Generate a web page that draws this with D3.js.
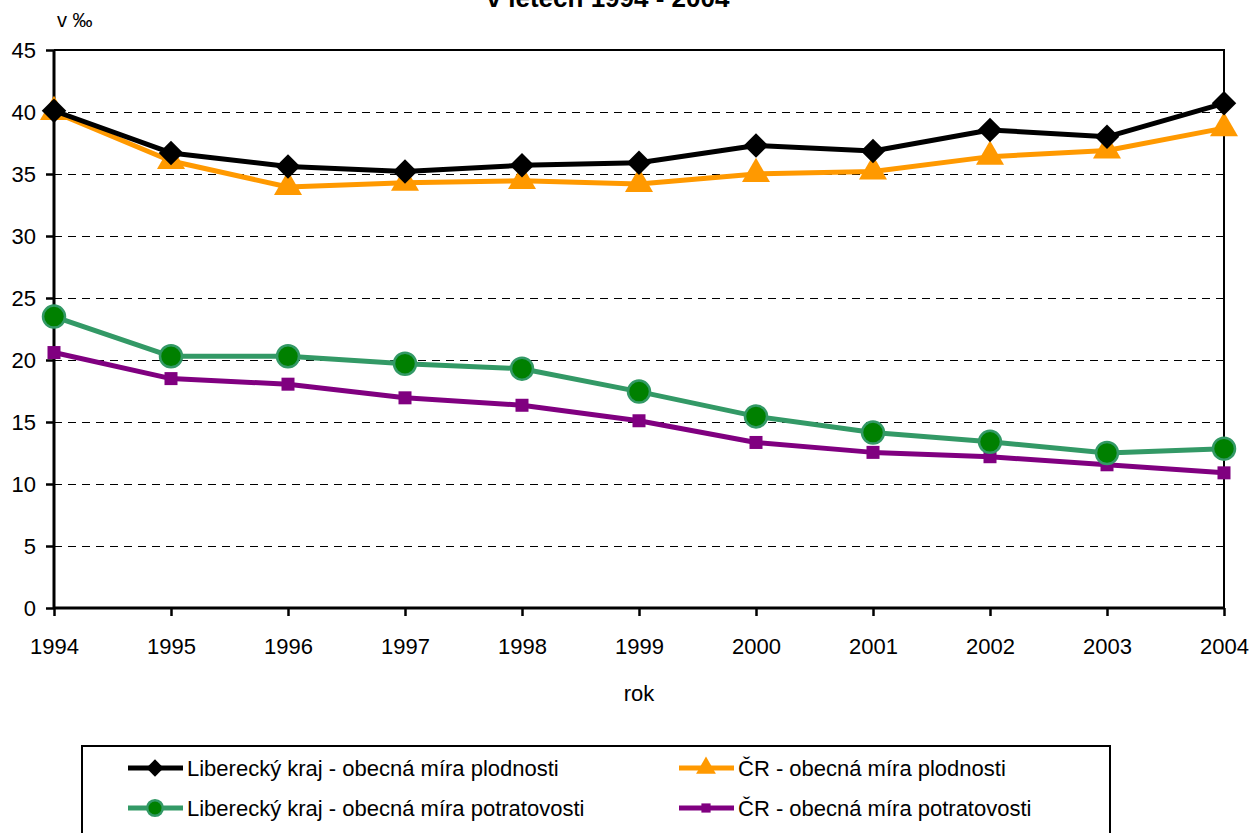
<!DOCTYPE html>
<html lang="cs">
<head>
<meta charset="UTF-8">
<title>Obecná míra plodnosti a potratovosti</title>
<script src="https://d3js.org/d3.v7.min.js"></script>
<style>
  body { margin: 0; background: #fff; }
  svg { display: block; font-family: "Liberation Sans Narrow", "Arial Narrow", "Liberation Sans", Arial, sans-serif; }
</style>
</head>
<body>
<div id="chart"></div>
<script>
const years = [1994, 1995, 1996, 1997, 1998, 1999, 2000, 2001, 2002, 2003, 2004];
const lkPlodnost = [40.1, 36.7, 35.6, 35.2, 35.7, 35.9, 37.3, 36.85, 38.55, 38.0, 40.7];
const crPlodnost = [40.0, 36.05, 33.95, 34.3, 34.45, 34.2, 35.0, 35.2, 36.4, 36.9, 38.7];
const lkPotrat = [23.5, 20.3, 20.3, 19.7, 19.3, 17.45, 15.45, 14.15, 13.4, 12.5, 12.85];
const crPotrat = [20.6, 18.5, 18.05, 16.95, 16.35, 15.1, 13.35, 12.55, 12.2, 11.55, 10.9];
const yTicks = [0, 5, 10, 15, 20, 25, 30, 35, 40, 45];

const series = [
  { name: "Liberecký kraj - obecná míra plodnosti", values: lkPlodnost, color: "#000000", marker: "diamond" },
  { name: "ČR - obecná míra plodnosti", values: crPlodnost, color: "#FF9900", marker: "triangle" },
  { name: "Liberecký kraj - obecná míra potratovosti", values: lkPotrat, color: "#339966", marker: "circle" },
  { name: "ČR - obecná míra potratovosti", values: crPotrat, color: "#800080", marker: "square" }
];

const W = 1253, H = 833;
const plot = { left: 54, right: 1224, top: 50, bottom: 608 };

const svg = d3.select("#chart").append("svg")
  .attr("width", W).attr("height", H);

const x = d3.scaleLinear().domain([1994, 2004]).range([plot.left, plot.right]);
const y = d3.scaleLinear().domain([0, 45]).range([plot.bottom, plot.top]);

// title (cut off at the top like the original)
svg.append("text")
  .attr("x", 608).attr("y", 7)
  .attr("text-anchor", "middle")
  .style("font-family", "Liberation Sans, Arial, sans-serif")
  .style("font-weight", "bold")
  .style("font-size", "26px")
  .text("v letech 1994 - 2004");

// grid
svg.append("g").selectAll("line")
  .data(yTicks.filter(d => d > 0 && d < 45))
  .join("line")
  .attr("x1", plot.left).attr("x2", plot.right)
  .attr("y1", d => Math.round(y(d)) + 0.5).attr("y2", d => Math.round(y(d)) + 0.5)
  .attr("stroke", "#000").attr("stroke-width", 1)
  .attr("stroke-dasharray", "8,6");

// frame top and right
svg.append("path")
  .attr("d", `M${plot.left},${y(45)}H${plot.right}V${plot.bottom}`)
  .attr("fill", "none").attr("stroke", "#000").attr("stroke-width", 2);

// axes
const yAxis = svg.append("g")
  .attr("transform", `translate(${plot.left},0)`)
  .call(d3.axisLeft(y).tickValues(yTicks).tickSize(8).tickPadding(10));
const xAxis = svg.append("g")
  .attr("transform", `translate(0,${plot.bottom})`)
  .call(d3.axisBottom(x).tickValues(years).tickFormat(d3.format("d")).tickSize(8).tickPadding(22));

[yAxis, xAxis].forEach(g => {
  g.select(".domain").attr("stroke", "#000").attr("stroke-width", 3);
  g.selectAll(".tick line").attr("stroke", "#000").attr("stroke-width", 2.5);
  g.selectAll(".tick text").attr("fill", "#000").style("font-size", "22px");
});
xAxis.select(".domain").attr("d", `M${plot.left},0H${plot.right}`);
yAxis.select(".domain").attr("d", `M0,${plot.bottom}V${plot.top}`);

// axis titles
svg.append("text").attr("x", 57).attr("y", 27)
  .style("font-size", "20px").text("v ‰");
svg.append("text").attr("x", 639).attr("y", 701)
  .attr("text-anchor", "middle").style("font-size", "22px").text("rok");

function drawMarker(g, type, color, scale) {
  const s = scale || 1;
  if (type === "diamond") {
    g.append("path").attr("d", d3.symbol().type(d3.symbolSquare).size(300 * s)())
      .attr("transform", "rotate(45)").attr("fill", color);
  } else if (type === "triangle") {
    g.append("path").attr("d", d3.symbol().type(d3.symbolTriangle).size(340 * s)())
      .attr("fill", color);
  } else if (type === "circle") {
    g.append("circle").attr("r", 11 * Math.sqrt(s))
      .attr("fill", "#008000").attr("stroke", color).attr("stroke-width", 2.5);
  } else {
    const h = 6.5 * Math.sqrt(s);
    g.append("rect").attr("x", -h).attr("y", -h)
      .attr("width", 2 * h).attr("height", 2 * h)
      .attr("fill", color);
  }
}

const line = d3.line().x((d, i) => x(years[i])).y(d => y(d));

// draw in reverse order so the first series is on top
series.slice().reverse().forEach(s => {
  const g = svg.append("g");
  g.append("path").datum(s.values)
    .attr("d", line)
    .attr("fill", "none").attr("stroke", s.color).attr("stroke-width", 5)
    .attr("stroke-linejoin", "round");
  s.values.forEach((v, i) => {
    const m = g.append("g").attr("transform", `translate(${x(years[i])},${y(v)})`);
    drawMarker(m, s.marker, s.color);
  });
});

// legend
svg.append("rect")
  .attr("x", 82).attr("y", 746).attr("width", 1028).attr("height", 120)
  .attr("fill", "none").attr("stroke", "#000").attr("stroke-width", 2);

const legendPos = [
  { x: 128, y: 768 }, { x: 679, y: 768 },
  { x: 128, y: 808 }, { x: 679, y: 808 }
];
series.forEach((s, i) => {
  const p = legendPos[i];
  const g = svg.append("g");
  g.append("line").attr("x1", p.x).attr("x2", p.x + 55)
    .attr("y1", p.y).attr("y2", p.y)
    .attr("stroke", s.color).attr("stroke-width", 5);
  const m = g.append("g").attr("transform", `translate(${p.x + 27},${p.y})`);
  drawMarker(m, s.marker, s.color, 0.5);
  g.append("text").attr("x", p.x + 59).attr("y", p.y + 8)
    .style("font-size", "22px").text(s.name);
});
</script>
</body>
</html>
